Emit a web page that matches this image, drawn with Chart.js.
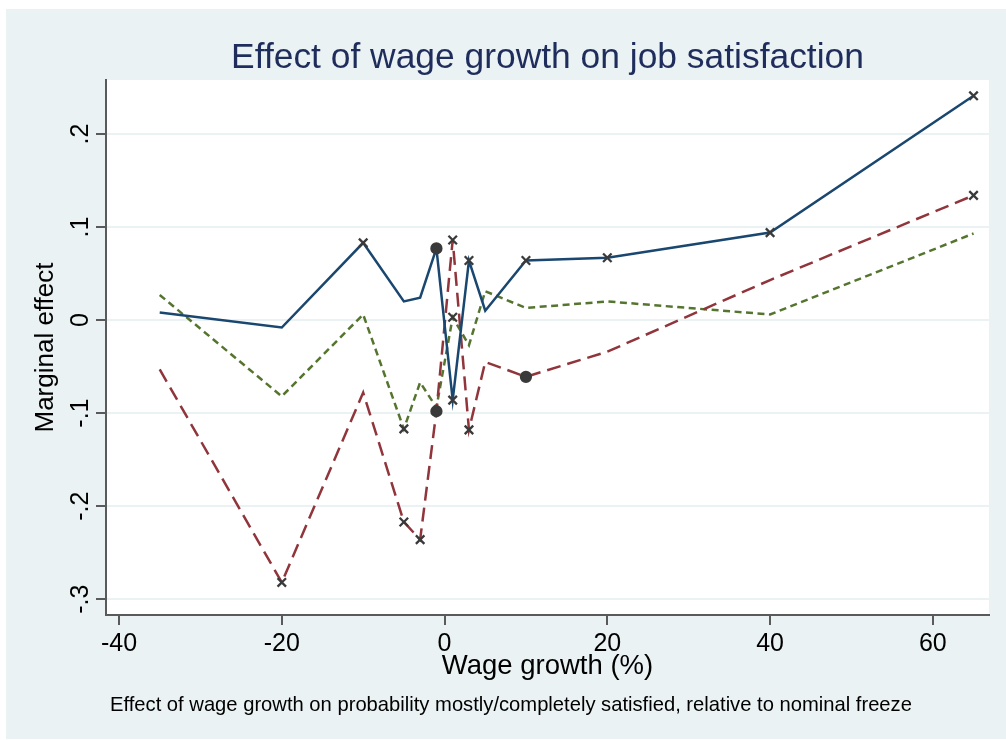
<!DOCTYPE html>
<html>
<head>
<meta charset="utf-8">
<script src="https://cdn.jsdelivr.net/npm/chart.js@4.4.0/dist/chart.umd.min.js"></script>
<style>
  html, body { margin: 0; padding: 0; background: #ffffff; }
  #wrap { width: 1006px; height: 740px; }
</style>
</head>
<body>
<div id="wrap"><canvas id="chart" width="1006" height="740"></canvas></div>
<script>
// Wage growth categories (%) and the marginal effect for each specification
const wageGrowth = [-35, -20, -10, -5, -3, -1, 1, 3, 5, 10, 20, 40, 65];
const effectSolid  = [0.008, -0.008, 0.083, 0.020, 0.024, 0.077, -0.086, 0.064, 0.010, 0.064, 0.067, 0.094, 0.241];
const effectDashed = [-0.053, -0.282, -0.078, -0.217, -0.236, -0.098, 0.086, -0.118, -0.045, -0.061, -0.034, 0.043, 0.134];
const effectDotted = [0.027, -0.082, 0.006, -0.117, -0.067, -0.094, 0.003, -0.027, 0.031, 0.013, 0.020, 0.006, 0.093];

// Point markers: 'x' = cross, 'o' = filled dot, '' = none
const marksSolid  = ['', '', 'x', '', '', 'o', 'x', 'x', '', 'x', 'x', 'x', 'x'];
const marksDashed = ['', 'x', '', 'x', 'x', 'o', 'x', 'x', '', 'o', '', '', 'x'];
const marksDotted = ['', '', '', 'x', '', '', 'x', '', '', '', '', '', ''];

// Axis ticks
const xTickValues = [-40, -20, 0, 20, 40, 60];
const xTickLabels = ['-40', '-20', '0', '20', '40', '60'];
const yTickValues = [-0.3, -0.2, -0.1, 0, 0.1, 0.2];
const yTickLabels = ['-.3', '-.2', '-.1', '0', '.1', '.2'];

const titleText = 'Effect of wage growth on job satisfaction';
const xTitleText = 'Wage growth (%)';
const yTitleText = 'Marginal effect';
const noteText = 'Effect of wage growth on probability mostly/completely satisfied, relative to nominal freeze';

const FONT = '"Liberation Sans", Arial, Helvetica, sans-serif';
const BG = '#eaf2f3';
const MARKER = '#3a3a3a';

function points(values) {
  return wageGrowth.map((x, i) => ({ x: x, y: values[i] }));
}
function styles(marks) {
  return marks.map(m => m === 'o' ? 'circle' : 'crossRot');
}
function radii(marks) {
  return marks.map(m => m === 'o' ? 5 : (m === 'x' ? 6 : 0));
}

function series(values, marks, color, dash) {
  return {
    data: points(values),
    borderColor: color,
    borderWidth: 2.5,
    borderDash: dash,
    tension: 0,
    fill: false,
    pointStyle: styles(marks),
    pointRadius: radii(marks),
    pointHoverRadius: radii(marks),
    pointBorderWidth: 2.3,
    pointBorderColor: MARKER,
    pointBackgroundColor: MARKER
  };
}

// Graph region, plot region and text drawn around the axes
const frame = {
  id: 'frame',
  beforeDraw(chart) {
    const { ctx, chartArea: a } = chart;
    ctx.save();
    ctx.fillStyle = '#ffffff';
    ctx.fillRect(0, 0, chart.width, chart.height);
    ctx.fillStyle = BG;
    ctx.fillRect(6, 9, chart.width - 6, chart.height - 10);
    ctx.fillStyle = '#ffffff';
    ctx.fillRect(a.left, a.top, a.right - a.left, a.bottom - a.top);
    ctx.restore();
  },
  afterDraw(chart) {
    const { ctx, chartArea: a } = chart;
    ctx.save();
    ctx.fillStyle = '#1e2d5c';
    ctx.font = '35.4px ' + FONT;
    ctx.textAlign = 'center';
    ctx.textBaseline = 'alphabetic';
    ctx.fillText(titleText, (a.left + a.right) / 2, 68);
    ctx.fillStyle = '#000000';
    ctx.font = '20.2px ' + FONT;
    ctx.textAlign = 'left';
    ctx.fillText(noteText, 110, 711);
    ctx.restore();
  }
};

new Chart(document.getElementById('chart'), {
  type: 'line',
  data: {
    datasets: [
      series(effectSolid, marksSolid, '#1a476f', []),
      series(effectDashed, marksDashed, '#90353b', [14, 7]),
      series(effectDotted, marksDotted, '#55752f', [7, 4.5])
    ]
  },
  options: {
    responsive: false,
    animation: false,
    devicePixelRatio: 1,
    layout: { padding: { left: 6, right: 17, top: 80, bottom: 0 } },
    plugins: {
      legend: { display: false },
      tooltip: { enabled: false },
      title: { display: false }
    },
    scales: {
      x: {
        type: 'linear',
        min: -41.6,
        max: 66.9,
        afterBuildTicks(scale) { scale.ticks = xTickValues.map(v => ({ value: v })); },
        afterFit(scale) { scale.height = 125; },
        ticks: {
          autoSkip: false,
          maxRotation: 0,
          padding: 4,
          color: '#000000',
          font: { family: FONT, size: 25 },
          callback: (v, i) => xTickLabels[i]
        },
        grid: {
          drawOnChartArea: false,
          drawTicks: true,
          tickLength: 10,
          tickColor: '#5a5a5a',
          lineWidth: 2
        },
        border: { display: true, color: '#5a5a5a', width: 2 },
        title: {
          display: true,
          text: xTitleText,
          color: '#000000',
          font: { family: FONT, size: 27.5 },
          padding: { top: 0, bottom: 57 }
        }
      },
      y: {
        type: 'linear',
        min: -0.317,
        max: 0.258,
        afterBuildTicks(scale) { scale.ticks = yTickValues.map(v => ({ value: v })); },
        afterFit(scale) { scale.width = 100; },
        ticks: {
          autoSkip: false,
          minRotation: 90,
          maxRotation: 90,
          crossAlign: 'center',
          padding: 0,
          color: '#000000',
          font: { family: FONT, size: 25 },
          callback: (v, i) => yTickLabels[i]
        },
        grid: {
          color: BG,
          lineWidth: 2,
          drawTicks: true,
          tickLength: 10,
          tickColor: '#5a5a5a'
        },
        border: { display: true, color: '#5a5a5a', width: 2 },
        title: {
          display: true,
          text: yTitleText,
          color: '#000000',
          font: { family: FONT, size: 26 },
          padding: { top: 24, bottom: 0 }
        }
      }
    }
  },
  plugins: [frame]
});
</script>
</body>
</html>
